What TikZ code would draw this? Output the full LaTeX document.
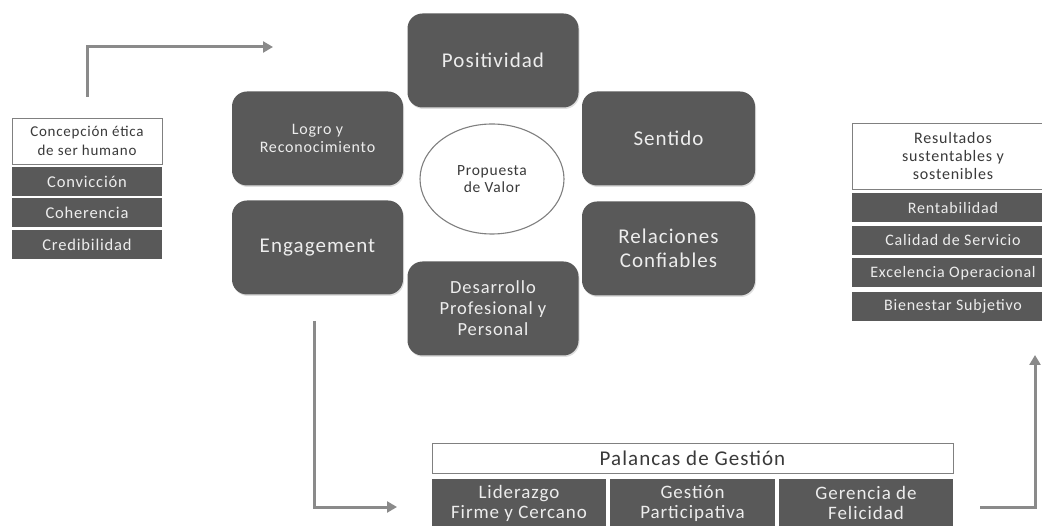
\documentclass[tikz,border=0pt]{standalone}
\usepackage{fontspec}
\setmainfont{Carlito}[LetterSpace=5.0]
\usetikzlibrary{arrows.meta,shadows,shapes.geometric}

\definecolor{boxgray}{HTML}{595959}
\definecolor{boxtext}{HTML}{EDEDED}
\definecolor{headtext}{HTML}{3A3A3A}
\definecolor{linegray}{HTML}{808080}
\definecolor{arrowgray}{HTML}{8A8A8A}

\tikzset{
  valuebox/.style={rounded corners=15pt, fill=boxgray, text=boxtext, align=center,
    minimum width=171pt, minimum height=94pt, inner sep=0pt,
    drop shadow={opacity=0.25, shadow xshift=1pt, shadow yshift=-1.5pt}},
  headbox/.style={draw=linegray, line width=0.8pt, fill=white, text=headtext, align=center, inner sep=0pt},
  rowbox/.style={fill=boxgray, text=boxtext, align=center, inner sep=0pt, minimum height=29pt},
  flow/.style={draw=arrowgray, line width=3pt, -{Triangle[length=10pt,width=11pt]}}
}

\begin{document}
\begin{tikzpicture}[x=1pt,y=-1pt]
  \useasboundingbox (0,0) rectangle (1042,526);
  \clip (0,0) rectangle (1042,526);

  % left: concepcion etica
  \node[headbox, minimum width=150pt, minimum height=46pt, font=\fontsize{15}{19}\selectfont] (concepcion) at (87,141) {Concepción ética\\de ser humano};
  \node[rowbox, minimum width=150pt, font=\fontsize{16.5}{19}\selectfont] (conviccion) at (87,181.5) {Convicción};
  \node[rowbox, minimum width=150pt, font=\fontsize{16.5}{19}\selectfont] (coherencia) at (87,213) {Coherencia};
  \node[rowbox, minimum width=150pt, font=\fontsize{16.5}{19}\selectfont] (credibilidad) at (87,244.5) {Credibilidad};

  % propuesta de valor
  \node[valuebox, font=\fontsize{21}{24}\selectfont] (positividad) at (493,60.5) {Positividad};
  \node[valuebox, font=\fontsize{16}{18}\selectfont] (logro) at (317.5,138.5) {Logro y\\Reconocimiento};
  \node[valuebox, font=\fontsize{21}{24}\selectfont] (engagement) at (317.5,247.5) {Engagement};
  \node[valuebox, font=\fontsize{18.5}{21}\selectfont] (desarrollo) at (493,308.5) {Desarrollo\\Profesional y\\Personal};
  \node[valuebox, minimum width=173pt, font=\fontsize{21}{24}\selectfont] (sentido) at (668.5,138.5) {Sentido};
  \node[valuebox, minimum width=173pt, font=\fontsize{21}{24}\selectfont] (relaciones) at (668.5,248.5) {Relaciones\\Confiables};
  \node[ellipse, draw=linegray, line width=1.1pt, fill=white, text=headtext, align=center,
    minimum width=144pt, minimum height=110pt, inner sep=0pt, font=\fontsize{15.5}{17}\selectfont] (propuesta) at (492,179) {Propuesta\\de Valor};

  % right: resultados
  \node[headbox, minimum width=202pt, minimum height=66pt, font=\fontsize{16}{18}\selectfont] (resultados) at (953,156) {Resultados\\sustentables y\\sostenibles};
  \node[rowbox, minimum width=202pt, font=\fontsize{16}{19}\selectfont] (rentabilidad) at (953,208) {Rentabilidad};
  \node[rowbox, minimum width=202pt, font=\fontsize{16}{19}\selectfont] (calidad) at (953,240.5) {Calidad de Servicio};
  \node[rowbox, minimum width=202pt, font=\fontsize{16}{19}\selectfont] (excelencia) at (953,273) {Excelencia Operacional};
  \node[rowbox, minimum width=202pt, font=\fontsize{16}{19}\selectfont] (bienestar) at (953,306.5) {Bienestar Subjetivo};

  % bottom: palancas de gestion
  \node[headbox, minimum width=521pt, minimum height=30pt, font=\fontsize{21}{24}\selectfont] (palancas) at (692.5,458) {Palancas de Gestión};
  \node[rowbox, minimum width=174pt, minimum height=48pt, font=\fontsize{19}{20}\selectfont] (liderazgo) at (519,503) {Liderazgo\\Firme y Cercano};
  \node[rowbox, minimum width=165pt, minimum height=48pt, font=\fontsize{19}{20}\selectfont] (gestion) at (692.5,503) {Gestión\\Participativa};
  \node[rowbox, minimum width=174pt, minimum height=48pt, font=\fontsize{19}{20}\selectfont] (gerencia) at (866,503) {Gerencia de\\Felicidad};
  \fill[boxgray] (liderazgo.south west) rectangle ([yshift=-8pt]liderazgo.south east);
  \fill[boxgray] (gestion.south west) rectangle ([yshift=-8pt]gestion.south east);
  \fill[boxgray] (gerencia.south west) rectangle ([yshift=-8pt]gerencia.south east);

  % arrows
  \coordinate (etica out) at (87,97);
  \coordinate (valor in) at (273,47);
  \coordinate (engage out) at (314,321);
  \coordinate (palanca in) at (397,507);
  \coordinate (felicidad out) at (980,507);
  \coordinate (resultado in) at (1035,355);
  \draw[flow] (etica out) |- (valor in);
  \draw[flow] (engage out) |- (palanca in);
  \draw[flow] (felicidad out) -| (resultado in);
\end{tikzpicture}
\end{document}
